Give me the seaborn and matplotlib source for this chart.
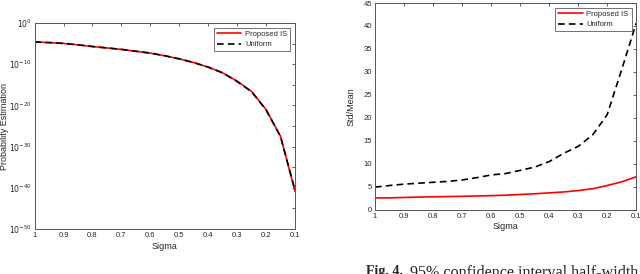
import numpy as np
import pandas as pd
import matplotlib
matplotlib.use("Agg")
import matplotlib.pyplot as plt
import seaborn as sns

# sigma grid (step 0.05, descending)
sigma = [1.0, 0.95, 0.9, 0.85, 0.8, 0.75, 0.7, 0.65, 0.6, 0.55,
         0.5, 0.45, 0.4, 0.35, 0.3, 0.25, 0.2, 0.15, 0.1]

# log10 of probability estimate (both methods overlap)
log_prob_is = [-4.6, -4.75, -4.95, -5.3, -5.7, -6.05, -6.4, -6.85, -7.3, -7.95,
               -8.7, -9.6, -10.7, -12.1, -14.1, -16.6, -21.0, -27.5, -40.9]
log_prob_uni = [-4.6, -4.75, -4.95, -5.3, -5.7, -6.05, -6.4, -6.85, -7.3, -7.95,
                -8.7, -9.6, -10.7, -12.1, -14.2, -16.7, -21.1, -27.6, -40.6]

# std/mean ratio
ratio_is = [2.6, 2.62, 2.7, 2.78, 2.85, 2.9, 2.95, 3.02, 3.1, 3.2,
            3.35, 3.5, 3.7, 3.9, 4.2, 4.6, 5.3, 6.1, 7.2]
ratio_uni = [4.95, 5.3, 5.6, 5.8, 6.0, 6.2, 6.5, 7.0, 7.6, 7.9,
             8.6, 9.3, 10.5, 12.3, 13.8, 16.3, 20.7, 30.5, 40.6]

labels = ["Proposed IS", "Uniform"]
x_ticks = [1, 0.9, 0.8, 0.7, 0.6, 0.5, 0.4, 0.3, 0.2, 0.1]
x_tick_labels = ["1", "0.9", "0.8", "0.7", "0.6", "0.5", "0.4", "0.3", "0.2", "0.1"]

sns.set_style("white")
plt.rcParams['font.family'] = ['Liberation Sans', 'DejaVu Sans']
plt.rcParams['font.size'] = 5.5

df_p = pd.DataFrame({
    "sigma": sigma * 2,
    "val": [10.0 ** v for v in log_prob_is] + [10.0 ** v for v in log_prob_uni],
    "method": [labels[0]] * len(sigma) + [labels[1]] * len(sigma),
})
df_r = pd.DataFrame({
    "sigma": sigma * 2,
    "val": ratio_is + ratio_uni,
    "method": [labels[0]] * len(sigma) + [labels[1]] * len(sigma),
})

fig = plt.figure(figsize=(6.4, 2.74), dpi=100)
ax1 = fig.add_axes([0.054, 0.164, 0.407, 0.752])
ax2 = fig.add_axes([0.586, 0.234, 0.408, 0.755])

pal = {labels[0]: "#ff0000", labels[1]: "#000000"}
dash = {labels[0]: "", labels[1]: (4, 2.5)}

for ax, df in [(ax1, df_p), (ax2, df_r)]:
    sns.lineplot(data=df, x="sigma", y="val", hue="method", style="method",
                 palette=pal, dashes=dash, linewidth=1.2, ax=ax, sort=False)
    ax.set_xlim(1, 0.1)
    ax.set_xticks(x_ticks)
    ax.set_xticklabels(x_tick_labels)
    ax.set_xlabel("Sigma", fontsize=6.5, labelpad=2)
    ax.tick_params(direction="in", length=2.5, width=0.5, colors="#262626",
                   labelsize=5.5, pad=2, top=True, right=True, which="both")
    for s in ax.spines.values():
        s.set_color("#555555")
        s.set_linewidth(0.7)
    leg = ax.legend(loc="upper right", frameon=True, fontsize=5.5, fancybox=False,
                    borderpad=0.4, handlelength=3.2, labelspacing=0.4,
                    handletextpad=0.5, borderaxespad=0.6)
    leg.get_frame().set_edgecolor("#333333")
    leg.get_frame().set_linewidth(0.6)

ax1.set_yscale("log")
ax1.set_ylim(1e-50, 1e0)
ax1.set_yticks([10.0 ** k for k in range(-50, 1, 10)])
ax1.set_yticks([10.0 ** k for k in range(-45, 0, 10)], minor=True)
ax1.set_yticklabels([f"$10^{{{k}}}$" for k in range(-50, 1, 10)])
ax1.set_yticklabels([], minor=True)
ax1.set_ylabel("Probability Estimation", fontsize=6.5, labelpad=0)

ax2.set_ylim(0, 45)
ax2.set_yticks(range(0, 46, 5))
ax2.set_ylabel("Std/Mean", fontsize=6.5, labelpad=6)

# caption (cropped at the bottom edge, as in the source image)
serif = ['Liberation Serif', 'DejaVu Serif']
fig.text(0.572, 0.033, "Fig. 4.", family=serif, fontsize=10, weight="bold", va="top")
fig.text(0.641, 0.033, "95% confidence interval half-width",
         family=serif, fontsize=11.6, va="top")

fig.savefig("out.png", dpi=100)
